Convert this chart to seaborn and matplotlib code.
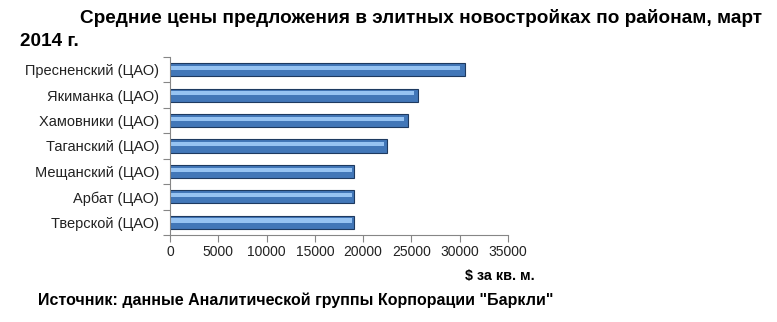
import matplotlib
matplotlib.use("Agg")
import matplotlib.pyplot as plt
import seaborn as sns
import numpy as np
import pandas as pd

districts = ["Пресненский (ЦАО)", "Якиманка (ЦАО)", "Хамовники (ЦАО)", "Таганский (ЦАО)",
             "Мещанский (ЦАО)", "Арбат (ЦАО)", "Тверской (ЦАО)"]
prices = [30500, 25700, 24600, 22500, 19100, 19100, 19100]
xticks = [0, 5000, 10000, 15000, 20000, 25000, 30000, 35000]

title_line1 = "Средние цены предложения в элитных новостройках по районам, март"
title_line2 = "2014 г."
unit_label = "$ за кв. м."
source_label = 'Источник: данные Аналитической группы Корпорации "Баркли"'

df = pd.DataFrame({"district": districts, "price": prices})

sns.set_theme(style="white")
plt.rcParams["font.family"] = ["Liberation Sans", "DejaVu Sans"]

fig = plt.figure(figsize=(7.77, 3.22), dpi=100)
ax = fig.add_axes([0.2188, 0.2702, 0.4350, 0.5528])

sns.barplot(data=df, x="price", y="district", orient="h", color="#4277b8",
            saturation=1, width=0.52, edgecolor="#1e3a60", linewidth=0.8, ax=ax)
# highlight strip
ypos = np.arange(len(districts))
ax.barh(ypos - 0.07, np.array(prices) * 0.985, height=0.16, color="#96c3f2", linewidth=0)

ax.set_xlim(0, 35000)
ax.set_ylim(len(districts) - 0.5, -0.5)
ax.set_xticks(xticks)
ax.set_xticklabels([str(t) for t in xticks], fontsize=10, color="#222222")
ax.set_xlabel("")
ax.set_ylabel("")
ax.tick_params(axis="y", which="major", length=0, labelsize=10.5, labelcolor="#222222", pad=8)
ax.set_yticks(np.arange(-0.5, len(districts)), minor=True)
ax.tick_params(axis="y", which="minor", length=5, color="#868686", width=0.8, left=True)
ax.tick_params(axis="x", length=5, color="#868686", width=0.8, bottom=True, pad=2)
for s in ["top", "right"]:
    ax.spines[s].set_visible(False)
for s in ["left", "bottom"]:
    ax.spines[s].set_color("#868686")
    ax.spines[s].set_linewidth(0.8)

fig.text(80 / 777, 1 - 18 / 322, title_line1, fontsize=13.7, fontweight="bold",
         va="center", ha="left", color="black")
fig.text(20 / 777, 1 - 42 / 322, title_line2, fontsize=13.7, fontweight="bold",
         va="center", ha="left", color="black")
fig.text(535 / 777, 1 - 276 / 322, unit_label, fontsize=10.4, fontweight="bold",
         va="center", ha="right", color="black")
fig.text(38 / 777, 1 - 300 / 322, source_label, fontsize=11.5, fontweight="bold",
         va="center", ha="left", color="black")

fig.savefig("out.png", dpi=100)
